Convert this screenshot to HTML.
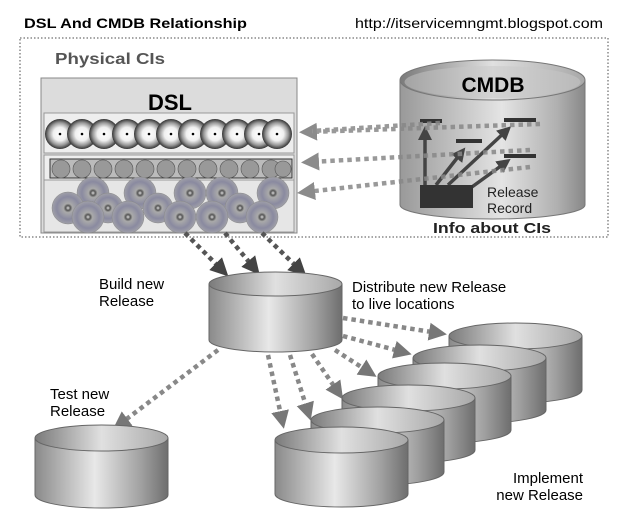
<!DOCTYPE html>
<html><head><meta charset="utf-8"><style>
html,body{margin:0;padding:0;background:#fff;}
svg{display:block;}
text{font-family:"Liberation Sans",sans-serif;}
</style></head><body>
<svg width="640" height="525" viewBox="0 0 640 525" xmlns="http://www.w3.org/2000/svg">
<defs>
<linearGradient id="cyl" x1="0" x2="1" y1="0" y2="0">
<stop offset="0" stop-color="#8a8a8a"/><stop offset="0.45" stop-color="#e8e8e8"/><stop offset="0.8" stop-color="#a0a0a0"/><stop offset="1" stop-color="#6e6e6e"/>
</linearGradient>
<linearGradient id="top" x1="0" x2="1" y1="0" y2="0">
<stop offset="0" stop-color="#7a7a7a"/><stop offset="0.5" stop-color="#e0e0e0"/><stop offset="1" stop-color="#a8a8a8"/>
</linearGradient>
<linearGradient id="cmdb" x1="0" x2="1" y1="0" y2="0">
<stop offset="0" stop-color="#999"/><stop offset="0.55" stop-color="#e4e4e4"/><stop offset="0.85" stop-color="#b0b0b0"/><stop offset="1" stop-color="#888"/>
</linearGradient>
<radialGradient id="disc" cx="0.5" cy="0.5" r="0.5">
<stop offset="0" stop-color="#fff"/><stop offset="0.45" stop-color="#f0f0f0"/><stop offset="0.75" stop-color="#999"/><stop offset="1" stop-color="#333"/>
</radialGradient>
<radialGradient id="cd" cx="0.5" cy="0.5" r="0.5">
<stop offset="0" stop-color="#ddd"/><stop offset="0.15" stop-color="#555"/><stop offset="0.28" stop-color="#aaa"/><stop offset="0.7" stop-color="#8a8aa0"/><stop offset="1" stop-color="#a0a0a8"/>
</radialGradient>
<marker id="ah" markerWidth="4" markerHeight="4" refX="2" refY="2" orient="auto" markerUnits="strokeWidth"><path d="M0,0 L4,2 L0,4 Z" fill="#777"/></marker>
<marker id="ahd" markerWidth="4" markerHeight="4" refX="2" refY="2" orient="auto" markerUnits="strokeWidth"><path d="M0,0 L4,2 L0,4 Z" fill="#444"/></marker>
</defs>

<text x="24" y="28" font-size="14" font-weight="bold" textLength="223" lengthAdjust="spacingAndGlyphs">DSL And CMDB Relationship</text>
<text x="355" y="28" font-size="14" textLength="248" lengthAdjust="spacingAndGlyphs">http://itservicemngmt.blogspot.com</text>

<rect x="20" y="38" width="588" height="199" fill="none" stroke="#888" stroke-width="1.5" stroke-dasharray="1.5 2"/>
<text x="55" y="64" font-size="16" font-weight="bold" fill="#555" font-family="DejaVu Sans, sans-serif" textLength="110" lengthAdjust="spacingAndGlyphs">Physical CIs</text>

<!-- DSL box -->
<rect x="41" y="78" width="256" height="155" fill="#dcdcdc" stroke="#888"/>
<text x="170" y="110" font-size="22" font-weight="bold" text-anchor="middle">DSL</text>
<rect x="44" y="113" width="250" height="40" fill="#eee" stroke="#999"/>
<g>
<circle cx="60" cy="134" r="15" fill="url(#disc)"/><circle cx="82" cy="134" r="15" fill="url(#disc)"/><circle cx="104" cy="134" r="15" fill="url(#disc)"/><circle cx="127" cy="134" r="15" fill="url(#disc)"/><circle cx="149" cy="134" r="15" fill="url(#disc)"/><circle cx="171" cy="134" r="15" fill="url(#disc)"/><circle cx="193" cy="134" r="15" fill="url(#disc)"/><circle cx="215" cy="134" r="15" fill="url(#disc)"/><circle cx="237" cy="134" r="15" fill="url(#disc)"/><circle cx="259" cy="134" r="15" fill="url(#disc)"/><circle cx="277" cy="134" r="15" fill="url(#disc)"/>
</g>
<g fill="#000"><circle cx="60" cy="134" r="1.3"/><circle cx="82" cy="134" r="1.3"/><circle cx="104" cy="134" r="1.3"/><circle cx="127" cy="134" r="1.3"/><circle cx="149" cy="134" r="1.3"/><circle cx="171" cy="134" r="1.3"/><circle cx="193" cy="134" r="1.3"/><circle cx="215" cy="134" r="1.3"/><circle cx="237" cy="134" r="1.3"/><circle cx="259" cy="134" r="1.3"/><circle cx="277" cy="134" r="1.3"/></g>
<rect x="44" y="155" width="250" height="25" fill="#eee" stroke="#999"/>
<rect x="50" y="159" width="242" height="19" fill="#bbb" stroke="#333"/>
<g fill="#999" stroke="#555" stroke-width="0.6">
<circle cx="61" cy="169" r="9"/><circle cx="82" cy="169" r="9"/><circle cx="103" cy="169" r="9"/><circle cx="124" cy="169" r="9"/><circle cx="145" cy="169" r="9"/><circle cx="166" cy="169" r="9"/><circle cx="187" cy="169" r="9"/><circle cx="208" cy="169" r="9"/><circle cx="229" cy="169" r="9"/><circle cx="250" cy="169" r="9"/><circle cx="271" cy="169" r="9"/><circle cx="283" cy="169" r="8"/>
</g>
<rect x="44" y="180" width="250" height="52" fill="#e6e6e6" stroke="#999"/>
<g stroke="#888" stroke-width="0.5">
<circle cx="93" cy="193" r="16" fill="url(#cd)"/><circle cx="140" cy="193" r="16" fill="url(#cd)"/><circle cx="190" cy="193" r="16" fill="url(#cd)"/><circle cx="222" cy="193" r="16" fill="url(#cd)"/><circle cx="273" cy="193" r="16" fill="url(#cd)"/>
<circle cx="68" cy="208" r="16" fill="url(#cd)"/><circle cx="108" cy="208" r="15" fill="url(#cd)"/><circle cx="158" cy="208" r="15" fill="url(#cd)"/><circle cx="240" cy="208" r="15" fill="url(#cd)"/>
<circle cx="88" cy="217" r="16" fill="url(#cd)"/><circle cx="128" cy="217" r="16" fill="url(#cd)"/><circle cx="180" cy="217" r="16" fill="url(#cd)"/><circle cx="212" cy="217" r="16" fill="url(#cd)"/><circle cx="262" cy="217" r="16" fill="url(#cd)"/>
</g>

<!-- CMDB -->
<path d="M400,80 L400,205 A92.5,14 0 0 0 585,205 L585,80 Z" fill="url(#cmdb)" stroke="#777"/>
<ellipse cx="492.5" cy="80" rx="92.5" ry="20" fill="url(#top)" stroke="#777"/>
<ellipse cx="492.5" cy="82" rx="88" ry="16" fill="#c8c8c8" opacity="0.5"/>
<text x="493" y="92" font-size="21" font-weight="bold" text-anchor="middle">CMDB</text>
<g fill="#333"><rect x="420" y="119" width="22" height="4"/><rect x="456" y="139" width="26" height="4"/><rect x="504" y="118" width="32" height="4"/><rect x="504" y="154" width="32" height="4"/></g>
<g stroke="#444" stroke-width="3.5" fill="none">
<line x1="425" y1="185" x2="425" y2="133" marker-end="url(#ahd)"/>
<line x1="436" y1="185" x2="461" y2="153" marker-end="url(#ahd)"/>
<line x1="448" y1="185" x2="506" y2="131" marker-end="url(#ahd)"/>
<line x1="465" y1="192" x2="505" y2="163" marker-end="url(#ahd)"/>
</g>
<rect x="420" y="185" width="53" height="23" fill="#333"/>
<text x="487" y="197" font-size="14" fill="#222">Release</text>
<text x="487" y="213" font-size="14" fill="#222">Record</text>
<text x="433" y="233" font-size="15" font-weight="bold" fill="#222" font-family="DejaVu Sans, sans-serif" textLength="118" lengthAdjust="spacingAndGlyphs">Info about CIs</text>

<!-- CMDB -> DSL arrows -->
<g stroke="#888" stroke-width="4.5" stroke-dasharray="4.5 4" fill="none" opacity="0.85">
<line x1="540" y1="124" x2="308" y2="132" marker-end="url(#ah)"/>
<line x1="440" y1="123" x2="312" y2="131" />
<line x1="530" y1="150" x2="310" y2="162" marker-end="url(#ah)"/>
<line x1="530" y1="167" x2="306" y2="192" marker-end="url(#ah)"/>
</g>

<!-- DSL -> Build -->
<g stroke="#555" stroke-width="4.5" stroke-dasharray="4.5 4" fill="none">
<line x1="185" y1="233" x2="222" y2="270" marker-end="url(#ahd)"/>
<line x1="225" y1="233" x2="254" y2="268" marker-end="url(#ahd)"/>
<line x1="262" y1="233" x2="300" y2="270" marker-end="url(#ahd)"/>
</g>

<!-- Build cylinder -->
<path d="M209,284 L209,340 A66.5,12 0 0 0 342,340 L342,284 Z" fill="url(#cyl)" stroke="#666"/>
<ellipse cx="275.5" cy="284" rx="66.5" ry="12" fill="url(#top)" stroke="#666"/>
<text x="99" y="289" font-size="15">Build new</text>
<text x="99" y="306" font-size="15">Release</text>
<text x="352" y="292" font-size="15">Distribute new Release</text>
<text x="352" y="309" font-size="15">to live locations</text>

<!-- Build -> others arrows -->
<g stroke="#888" stroke-width="4.5" stroke-dasharray="4.5 4" fill="none">
<line x1="218" y1="350" x2="120" y2="424" marker-end="url(#ah)"/>
<line x1="343" y1="318" x2="438" y2="333" marker-end="url(#ah)"/>
<line x1="343" y1="336" x2="403" y2="352" marker-end="url(#ah)"/>
<line x1="335" y1="350" x2="369" y2="372" marker-end="url(#ah)"/>
<line x1="312" y1="354" x2="338" y2="392" marker-end="url(#ah)"/>
<line x1="290" y1="355" x2="308" y2="412" marker-end="url(#ah)"/>
<line x1="268" y1="355" x2="282" y2="420" marker-end="url(#ah)"/>
</g>

<!-- Implement cylinders back to front -->
<g stroke="#666">
<path d="M449,336 L449,390 A66.5,13 0 0 0 582,390 L582,336 Z" fill="url(#cyl)"/><ellipse cx="515.5" cy="336" rx="66.5" ry="13" fill="url(#top)"/>
<path d="M413,358 L413,410 A66.5,13 0 0 0 546,410 L546,358 Z" fill="url(#cyl)"/><ellipse cx="479.5" cy="358" rx="66.5" ry="13" fill="url(#top)"/>
<path d="M378,376 L378,430 A66.5,13 0 0 0 511,430 L511,376 Z" fill="url(#cyl)"/><ellipse cx="444.5" cy="376" rx="66.5" ry="13" fill="url(#top)"/>
<path d="M342,398 L342,450 A66.5,13 0 0 0 475,450 L475,398 Z" fill="url(#cyl)"/><ellipse cx="408.5" cy="398" rx="66.5" ry="13" fill="url(#top)"/>
<path d="M311,420 L311,472 A66.5,13 0 0 0 444,472 L444,420 Z" fill="url(#cyl)"/><ellipse cx="377.5" cy="420" rx="66.5" ry="13" fill="url(#top)"/>
<path d="M275,440 L275,494 A66.5,13 0 0 0 408,494 L408,440 Z" fill="url(#cyl)"/><ellipse cx="341.5" cy="440" rx="66.5" ry="13" fill="url(#top)"/>
<path d="M35,438 L35,495 A66.5,13 0 0 0 168,495 L168,438 Z" fill="url(#cyl)"/><ellipse cx="101.5" cy="438" rx="66.5" ry="13" fill="url(#top)"/>
</g>
<text x="50" y="399" font-size="15">Test new</text>
<text x="50" y="416" font-size="15">Release</text>
<text x="583" y="483" font-size="15" text-anchor="end">Implement</text>
<text x="583" y="500" font-size="15" text-anchor="end">new Release</text>
</svg>
</body></html>
